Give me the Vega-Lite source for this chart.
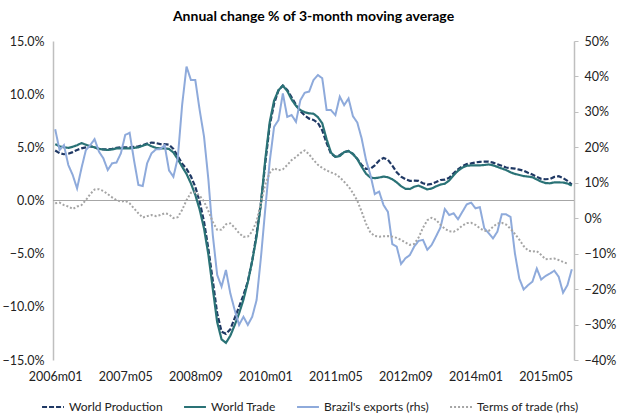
{
  "$schema": "https://vega.github.io/schema/vega-lite/v6.json",
  "width": 521,
  "height": 319,
  "autosize": {"type": "none"},
  "padding": {"left": 53, "top": 41, "right": 44, "bottom": 60},
  "background": "white",
  "title": {"text": "Annual change % of 3-month moving average", "font": "Lato", "fontSize": 14, "fontWeight": "bold", "color": "#000000", "offset": 11, "anchor": "middle"},
  "config": {"view": {"stroke": null}, "font": "Lato", "axis": {"labelFont": "Lato", "labelFontSize": 12.5, "labelColor": "#222222", "grid": false}},
  "data": {"values": [
    {"m":"2006m01","wp":4.7,"wt":5.3,"br":25.1,"tt":4.2},
    {"m":"2006m02","wp":4.45,"wt":5.1,"br":19.2,"tt":4.4},
    {"m":"2006m03","wp":4.35,"wt":5.0,"br":20.6,"tt":3.7},
    {"m":"2006m04","wp":4.4,"wt":4.95,"br":15.0,"tt":3.3},
    {"m":"2006m05","wp":4.55,"wt":5.05,"br":12.2,"tt":2.6},
    {"m":"2006m06","wp":4.75,"wt":5.2,"br":8.4,"tt":3.3},
    {"m":"2006m07","wp":4.9,"wt":5.4,"br":14.1,"tt":3.7},
    {"m":"2006m08","wp":5.0,"wt":5.25,"br":19.2,"tt":5.1},
    {"m":"2006m09","wp":5.1,"wt":5.1,"br":20.6,"tt":6.8},
    {"m":"2006m10","wp":5.0,"wt":5.0,"br":22.3,"tt":8.1},
    {"m":"2006m11","wp":4.85,"wt":4.85,"br":18.8,"tt":8.2},
    {"m":"2006m12","wp":4.8,"wt":4.8,"br":16.9,"tt":7.7},
    {"m":"2007m01","wp":4.8,"wt":4.75,"br":13.6,"tt":6.8},
    {"m":"2007m02","wp":4.85,"wt":4.8,"br":15.5,"tt":5.9},
    {"m":"2007m03","wp":4.95,"wt":4.9,"br":15.7,"tt":5.1},
    {"m":"2007m04","wp":5.0,"wt":4.9,"br":18.3,"tt":4.7},
    {"m":"2007m05","wp":5.0,"wt":4.9,"br":23.5,"tt":4.9},
    {"m":"2007m06","wp":5.0,"wt":4.9,"br":24.1,"tt":4.2},
    {"m":"2007m07","wp":5.05,"wt":4.95,"br":16.4,"tt":2.8},
    {"m":"2007m08","wp":5.1,"wt":5.0,"br":9.4,"tt":1.4},
    {"m":"2007m09","wp":5.2,"wt":5.15,"br":9.1,"tt":0.2},
    {"m":"2007m10","wp":5.35,"wt":5.3,"br":15.5,"tt":0.6},
    {"m":"2007m11","wp":5.45,"wt":5.1,"br":18.3,"tt":0.9},
    {"m":"2007m12","wp":5.4,"wt":4.95,"br":19.4,"tt":0.6},
    {"m":"2008m01","wp":5.3,"wt":4.9,"br":19.5,"tt":0.9},
    {"m":"2008m02","wp":5.3,"wt":4.9,"br":20.6,"tt":1.4},
    {"m":"2008m03","wp":5.25,"wt":4.85,"br":13.5,"tt":1.1},
    {"m":"2008m04","wp":4.85,"wt":4.52,"br":11.7,"tt":0.04},
    {"m":"2008m05","wp":4.18,"wt":3.88,"br":17,"tt":0.3},
    {"m":"2008m06","wp":3.47,"wt":3.17,"br":32,"tt":2.38},
    {"m":"2008m07","wp":2.97,"wt":2.5,"br":42.8,"tt":5.1},
    {"m":"2008m08","wp":2.27,"wt":1.61,"br":39,"tt":7.19},
    {"m":"2008m09","wp":1.29,"wt":0.53,"br":39,"tt":7.31},
    {"m":"2008m10","wp":-0.11,"wt":-0.85,"br":30.5,"tt":6.37},
    {"m":"2008m11","wp":-2.0,"wt":-2.64,"br":23,"tt":4.7},
    {"m":"2008m12","wp":-4.58,"wt":-5.11,"br":10.8,"tt":1.99},
    {"m":"2009m01","wp":-7.54,"wt":-8.31,"br":-4.8,"tt":-1.04},
    {"m":"2009m02","wp":-10.6,"wt":-11.43,"br":-16,"tt":-3.26},
    {"m":"2009m03","wp":-12.33,"wt":-13.06,"br":-19.3,"tt":-3.22},
    {"m":"2009m04","wp":-12.54,"wt":-13.39,"br":-14.6,"tt":-1.74},
    {"m":"2009m05","wp":-12.12,"wt":-12.72,"br":-21.2,"tt":-1.45},
    {"m":"2009m06","wp":-11.06,"wt":-11.72,"br":-25.9,"tt":-2.67},
    {"m":"2009m07","wp":-10.0,"wt":-10.62,"br":-30.1,"tt":-4.2},
    {"m":"2009m08","wp":-8.9,"wt":-9.33,"br":-27.8,"tt":-5.24},
    {"m":"2009m09","wp":-7.61,"wt":-7.67,"br":-30.1,"tt":-5.15},
    {"m":"2009m10","wp":-5.68,"wt":-5.68,"br":-27.8,"tt":-3.72},
    {"m":"2009m11","wp":-3.14,"wt":-3.4,"br":-23.1,"tt":-0.89},
    {"m":"2009m12","wp":-0.22,"wt":-0.25,"br":-11,"tt":4.4},
    {"m":"2010m01","wp":3.56,"wt":3.92,"br":2.8,"tt":9.55},
    {"m":"2010m02","wp":7.06,"wt":7.37,"br":16,"tt":12.79},
    {"m":"2010m03","wp":9.1,"wt":9.4,"br":25.8,"tt":14.14},
    {"m":"2010m04","wp":10.36,"wt":10.37,"br":27.7,"tt":13.52},
    {"m":"2010m05","wp":10.8,"wt":10.8,"br":35.2,"tt":13.8},
    {"m":"2010m06","wp":10.4,"wt":10.3,"br":28.6,"tt":15.0},
    {"m":"2010m07","wp":9.7,"wt":9.5,"br":29.1,"tt":16.4},
    {"m":"2010m08","wp":9.0,"wt":8.9,"br":27.2,"tt":17.25},
    {"m":"2010m09","wp":8.4,"wt":8.5,"br":33.3,"tt":18.37},
    {"m":"2010m10","wp":8.0,"wt":8.3,"br":35.4,"tt":19.12},
    {"m":"2010m11","wp":7.7,"wt":8.2,"br":35.7,"tt":18.04},
    {"m":"2010m12","wp":7.58,"wt":8.16,"br":39,"tt":16.43},
    {"m":"2011m01","wp":7.3,"wt":7.84,"br":40.4,"tt":15.07},
    {"m":"2011m02","wp":6.6,"wt":7.26,"br":39.5,"tt":14.19},
    {"m":"2011m03","wp":5.4,"wt":5.75,"br":30.5,"tt":13.49},
    {"m":"2011m04","wp":4.4,"wt":4.5,"br":30.5,"tt":12.92},
    {"m":"2011m05","wp":4.12,"wt":4.1,"br":29.1,"tt":12.44},
    {"m":"2011m06","wp":4.26,"wt":4.18,"br":34.3,"tt":11.56},
    {"m":"2011m07","wp":4.55,"wt":4.55,"br":31.9,"tt":10.3},
    {"m":"2011m08","wp":4.65,"wt":4.65,"br":33.8,"tt":8.94},
    {"m":"2011m09","wp":4.38,"wt":4.38,"br":28.8,"tt":7.15},
    {"m":"2011m10","wp":3.92,"wt":3.9,"br":27.0,"tt":4.96},
    {"m":"2011m11","wp":3.33,"wt":3.17,"br":22.5,"tt":1.84},
    {"m":"2011m12","wp":2.97,"wt":2.52,"br":16.4,"tt":-1.55},
    {"m":"2012m01","wp":2.97,"wt":2.16,"br":12.2,"tt":-4.02},
    {"m":"2012m02","wp":3.3,"wt":2.1,"br":6.8,"tt":-5.02},
    {"m":"2012m03","wp":3.76,"wt":2.16,"br":7.5,"tt":-5.2},
    {"m":"2012m04","wp":4.0,"wt":2.25,"br":3.7,"tt":-5.11},
    {"m":"2012m05","wp":3.82,"wt":2.18,"br":1.8,"tt":-5.04},
    {"m":"2012m06","wp":3.28,"wt":2.0,"br":-7.3,"tt":-5.19},
    {"m":"2012m07","wp":2.66,"wt":1.71,"br":-8.0,"tt":-5.54},
    {"m":"2012m08","wp":2.25,"wt":1.35,"br":-12.9,"tt":-6.1},
    {"m":"2012m09","wp":2.0,"wt":1.1,"br":-11.3,"tt":-6.82},
    {"m":"2012m10","wp":1.85,"wt":1.08,"br":-10.4,"tt":-7.52},
    {"m":"2012m11","wp":1.86,"wt":1.29,"br":-8.0,"tt":-7.24},
    {"m":"2012m12","wp":1.84,"wt":1.4,"br":-6.4,"tt":-5.47},
    {"m":"2013m01","wp":1.62,"wt":1.22,"br":-6.1,"tt":-2.7},
    {"m":"2013m02","wp":1.5,"wt":1.04,"br":-8.9,"tt":-0.57},
    {"m":"2013m03","wp":1.56,"wt":1.13,"br":-7.5,"tt":0.13},
    {"m":"2013m04","wp":1.73,"wt":1.33,"br":-5.1,"tt":-0.45},
    {"m":"2013m05","wp":1.93,"wt":1.5,"br":-2.6,"tt":-1.87},
    {"m":"2013m06","wp":1.97,"wt":1.58,"br":2.6,"tt":-2.95},
    {"m":"2013m07","wp":2.13,"wt":1.88,"br":0.9,"tt":-3.7},
    {"m":"2013m08","wp":2.57,"wt":2.37,"br":1.4,"tt":-3.83},
    {"m":"2013m09","wp":2.93,"wt":2.8,"br":-0.3,"tt":-3.13},
    {"m":"2013m10","wp":3.23,"wt":3.09,"br":1.8,"tt":-2.1},
    {"m":"2013m11","wp":3.42,"wt":3.27,"br":3.9,"tt":-1.38},
    {"m":"2013m12","wp":3.49,"wt":3.3,"br":4.4,"tt":-1.3},
    {"m":"2014m01","wp":3.58,"wt":3.3,"br":2.8,"tt":-1.87},
    {"m":"2014m02","wp":3.64,"wt":3.3,"br":3.1,"tt":-2.83},
    {"m":"2014m03","wp":3.65,"wt":3.34,"br":-2.8,"tt":-3.55},
    {"m":"2014m04","wp":3.65,"wt":3.39,"br":-4.2,"tt":-3.6},
    {"m":"2014m05","wp":3.56,"wt":3.31,"br":-5.7,"tt":-2.43},
    {"m":"2014m06","wp":3.41,"wt":3.16,"br":-3.8,"tt":-1.47},
    {"m":"2014m07","wp":3.26,"wt":3.01,"br":1.1,"tt":-1.31},
    {"m":"2014m08","wp":3.1,"wt":2.86,"br":1.1,"tt":-1.78},
    {"m":"2014m09","wp":3.05,"wt":2.65,"br":0.4,"tt":-2.98},
    {"m":"2014m10","wp":3.0,"wt":2.5,"br":-9.9,"tt":-4.4},
    {"m":"2014m11","wp":2.9,"wt":2.4,"br":-17.0,"tt":-6.03},
    {"m":"2014m12","wp":2.8,"wt":2.3,"br":-20.1,"tt":-7.85},
    {"m":"2015m01","wp":2.6,"wt":2.25,"br":-18.9,"tt":-9.12},
    {"m":"2015m02","wp":2.44,"wt":2.19,"br":-17.9,"tt":-9.39},
    {"m":"2015m03","wp":2.23,"wt":1.98,"br":-14.2,"tt":-9.29},
    {"m":"2015m04","wp":2.04,"wt":1.78,"br":-17.3,"tt":-10.35},
    {"m":"2015m05","wp":2.0,"wt":1.64,"br":-16.3,"tt":-11.59},
    {"m":"2015m06","wp":2.03,"wt":1.62,"br":-15.6,"tt":-11.47},
    {"m":"2015m07","wp":2.22,"wt":1.7,"br":-14.8,"tt":-11.37},
    {"m":"2015m08","wp":2.28,"wt":1.7,"br":-16.5,"tt":-11.8},
    {"m":"2015m09","wp":2.11,"wt":1.69,"br":-21.0,"tt":-12.3},
    {"m":"2015m10","wp":1.85,"wt":1.6,"br":-18.9,"tt":-12.8},
    {"m":"2015m11","wp":1.5,"wt":1.4,"br":-14.4,"tt":null}
  ]},
  "layer": [
    {
      "layer": [
        {
          "data": {"values": [{"z": 0}]},
          "mark": {"type": "rule", "color": "#A6A6A6", "strokeWidth": 1.2},
          "encoding": {"y": {"field": "z", "type": "quantitative", "scale": {"domain": [-15, 15], "nice": false, "zero": false}, "axis": {"orient": "left", "values": [-15, -10, -5, 0, 5, 10, 15], "labelExpr": "format(datum.value,'.1f')+'%'", "title": null, "ticks": false, "domainColor": "#BFBFBF", "domainWidth": 1.5, "labelPadding": 9}}}
        },
        {
          "transform": [{"fold": ["wp", "wt"], "as": ["key", "val"]}],
          "mark": {"type": "line", "strokeWidth": 2.2},
          "encoding": {
            "x": {"field": "m", "type": "ordinal", "scale": {"type": "point", "padding": 0.5}, "axis": {"values": ["2006m01","2007m05","2008m09","2010m01","2011m05","2012m09","2014m01","2015m05"], "title": null, "domain": false, "ticks": false, "labelAngle": 0, "labelPadding": 10}},
            "y": {"field": "val", "type": "quantitative", "scale": {"domain": [-15, 15], "nice": false, "zero": false}, "axis": {"orient": "left", "values": [-15, -10, -5, 0, 5, 10, 15], "labelExpr": "format(datum.value,'.1f')+'%'", "title": null, "ticks": false, "domainColor": "#BFBFBF", "domainWidth": 1.5, "labelPadding": 9}},
            "color": {"field": "key", "type": "nominal", "scale": {"domain": ["wp", "wt", "br", "tt"], "range": ["#1F3864", "#2A7276", "#8EAADB", "#A5A5A5"]}, "legend": {"orient": "none", "legendX": -12, "legendY": 354, "direction": "horizontal", "title": null, "symbolType": "stroke", "symbolSize": 480, "symbolStrokeWidth": 2, "labelFont": "Lato", "labelFontSize": 12, "labelColor": "#222222", "columnPadding": 17, "labelExpr": "datum.label == 'wp' ? 'World Production' : datum.label == 'wt' ? 'World Trade' : datum.label == 'br' ? \"Brazil's exports (rhs)\" : 'Terms of trade (rhs)'"}},
            "strokeDash": {"field": "key", "type": "nominal", "scale": {"domain": ["wp", "wt", "br", "tt"], "range": [[5, 2], [1, 0], [1, 0], [2, 2]]}, "legend": {"orient": "none", "legendX": -12, "legendY": 354, "direction": "horizontal", "title": null, "symbolType": "stroke", "symbolSize": 480, "symbolStrokeWidth": 2, "labelFont": "Lato", "labelFontSize": 12, "labelColor": "#222222", "columnPadding": 17, "labelExpr": "datum.label == 'wp' ? 'World Production' : datum.label == 'wt' ? 'World Trade' : datum.label == 'br' ? \"Brazil's exports (rhs)\" : 'Terms of trade (rhs)'"}}
          }
        }
      ]
    },
    {
      "transform": [{"fold": ["br", "tt"], "as": ["key", "val"]}],
      "mark": {"type": "line", "strokeWidth": 2},
      "encoding": {
        "x": {"field": "m", "type": "ordinal", "scale": {"type": "point", "padding": 0.5}, "axis": {"values": ["2006m01","2007m05","2008m09","2010m01","2011m05","2012m09","2014m01","2015m05"], "title": null, "domain": false, "ticks": false, "labelAngle": 0, "labelPadding": 10}},
        "y": {"field": "val", "type": "quantitative", "scale": {"domain": [-40, 50], "nice": false, "zero": false}, "axis": {"orient": "right", "values": [-40, -30, -20, -10, 0, 10, 20, 30, 40, 50], "labelExpr": "format(datum.value,'d')+'%'", "title": null, "ticks": true, "tickSize": 4, "tickColor": "#BFBFBF", "domainColor": "#BFBFBF", "domainWidth": 1.5, "labelPadding": 6}},
        "color": {"field": "key", "type": "nominal", "scale": {"domain": ["wp", "wt", "br", "tt"], "range": ["#1F3864", "#2A7276", "#8EAADB", "#A5A5A5"]}, "legend": {"orient": "none", "legendX": -12, "legendY": 354, "direction": "horizontal", "title": null, "symbolType": "stroke", "symbolSize": 480, "symbolStrokeWidth": 2, "labelFont": "Lato", "labelFontSize": 12, "labelColor": "#222222", "columnPadding": 17, "labelExpr": "datum.label == 'wp' ? 'World Production' : datum.label == 'wt' ? 'World Trade' : datum.label == 'br' ? \"Brazil's exports (rhs)\" : 'Terms of trade (rhs)'"}},
        "strokeDash": {"field": "key", "type": "nominal", "scale": {"domain": ["wp", "wt", "br", "tt"], "range": [[5, 2], [1, 0], [1, 0], [2, 2]]}, "legend": {"orient": "none", "legendX": -12, "legendY": 354, "direction": "horizontal", "title": null, "symbolType": "stroke", "symbolSize": 480, "symbolStrokeWidth": 2, "labelFont": "Lato", "labelFontSize": 12, "labelColor": "#222222", "columnPadding": 17, "labelExpr": "datum.label == 'wp' ? 'World Production' : datum.label == 'wt' ? 'World Trade' : datum.label == 'br' ? \"Brazil's exports (rhs)\" : 'Terms of trade (rhs)'"}}
      }
    }
  ],
  "resolve": {"scale": {"y": "independent"}}
}
